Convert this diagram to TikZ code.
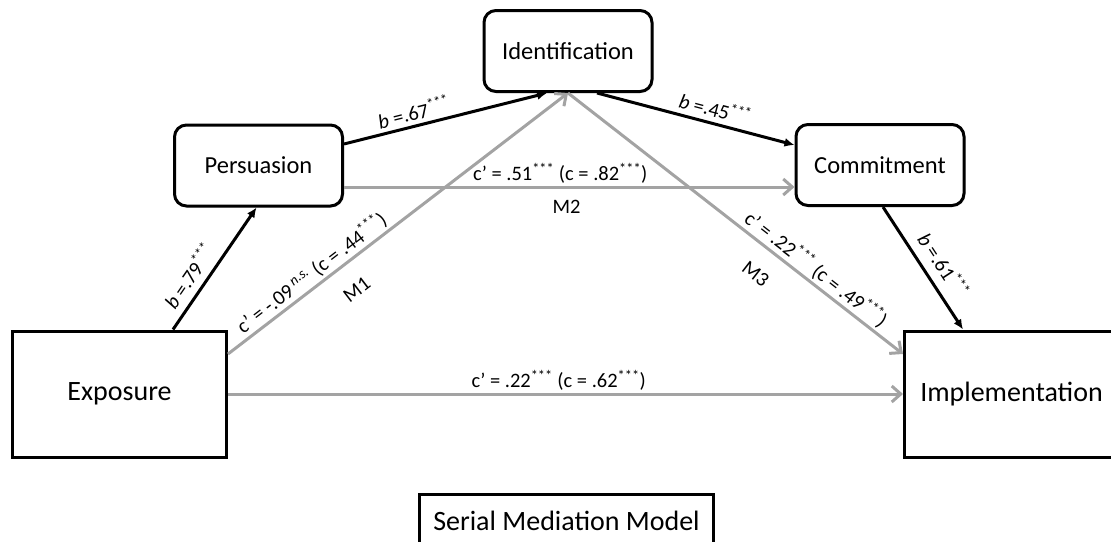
\documentclass[tikz,border=0pt]{standalone}
\usepackage{fontspec}
\setmainfont{Carlito}
\usetikzlibrary{arrows.meta,shadows,calc}
\definecolor{gline}{RGB}{163,163,163}
\newcommand{\sig}{\textsuperscript{***}}
\newcommand{\nsig}{\textsuperscript{\itshape n.s.}}
\begin{document}
\begin{tikzpicture}[x=1pt,y=-1pt,
  shad/.style={drop shadow={shadow xshift=1.5pt,shadow yshift=-1.5pt,opacity=0.2}},
  rbox/.style={draw=black,line width=3pt,rounded corners=12pt,fill=white,
    minimum width=168pt,minimum height=81pt,inner sep=0pt,shad,
    font=\fontsize{24.5}{28}\selectfont},
  sbox/.style={draw=black,line width=3pt,fill=white,
    minimum width=214pt,minimum height=126pt,inner sep=0pt,shad,
    font=\fontsize{28}{32}\selectfont},
  tbox/.style={draw=black,line width=3pt,fill=white,
    minimum width=294pt,minimum height=52pt,inner sep=0pt,anchor=north,
    font=\fontsize{28}{32}\selectfont},
  blk/.style={draw=black,line width=3pt,-{Latex[length=10pt,width=9pt]}},
  gry/.style={draw=gline,line width=3pt,-{Straight Barb[length=9pt,width=16pt]}},
  lab/.style={font=\fontsize{20.5}{24}\selectfont,inner sep=2pt,text=black},
]
\useasboundingbox (0,0) rectangle (1111,541);
\clip (0,0) rectangle (1111,541);

\node[rbox] (pers)  at (258.5,165.5) {Persuasion};
\node[rbox] (ident) at (568,51)      {Identification};
\node[rbox] (comm)  at (880,165)     {Commitment};
\node[sbox] (exp)   at (119.5,394)   {Exposure};
\node[sbox] (impl)  at (1011.5,394)  {Implementation};
\node[tbox] (title) at (566.5,493)   {Serial Mediation Model};

% grey direct paths
\draw[gry] ([yshift=-21.5pt]pers.east) --
  node[lab,above,pos=0.48]{c’ = .51\sig\ (c = .82\sig)}
  node[lab,below=10pt,pos=0.494]{M2}
  ([yshift=-22pt]comm.west);
\draw[gry] (exp.east) --
  node[lab,above,pos=0.49]{c’ = .22\sig\ (c = .62\sig)}
  (impl.west);
\draw[gry] ([yshift=40pt]exp.east) --
  node[lab,sloped,above,pos=0.27]{c’ = -.09\,\nsig\ (c = .44\sig)}
  node[lab,sloped,below=17pt,pos=0.33]{M1}
  (ident.south);
\draw[gry] (ident.south) --
  node[lab,sloped,above,pos=0.716]{c’ = .22\sig\ (c = .49\sig)}
  node[lab,sloped,below=17pt,pos=0.61]{M3}
  ([yshift=40pt]impl.west);

% black serial paths
\draw[blk] ([xshift=53.5pt]exp.north) --
  node[lab,sloped,above=5pt,pos=0.36]{\textit{b} =.79\sig}
  ([xshift=-2pt]pers.south);
\draw[blk] ([yshift=21.5pt]pers.east) --
  node[lab,sloped,above=2pt,pos=0.36]{\textit{b} =.67\sig}
  ([xshift=-21pt]ident.south);
\draw[blk] ([xshift=29pt]ident.south) --
  node[lab,sloped,above=3pt,pos=0.58]{\textit{b} =.45\sig}
  ([yshift=20pt]comm.west);
\draw[blk] ([xshift=3pt]comm.south) --
  node[lab,sloped,above=7pt,pos=0.56]{\textit{b} =.61\sig}
  ([xshift=-48.5pt]impl.north);
\end{tikzpicture}
\end{document}
